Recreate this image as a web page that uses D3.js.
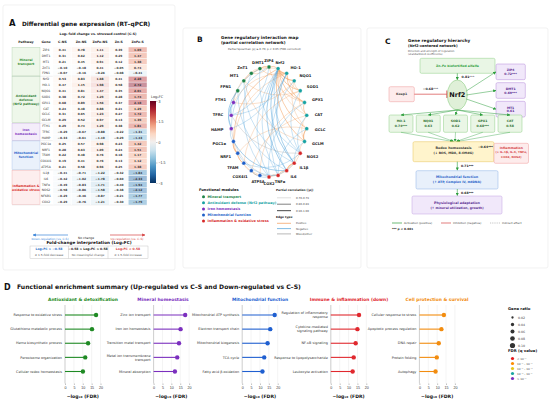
<!DOCTYPE html>
<html>
<head>
<meta charset="utf-8">
<script src="https://cdn.jsdelivr.net/npm/d3@7"></script>
<style>
body { margin: 0; background: #fff; }
svg { display: block; font-family: "DejaVu Sans", sans-serif; }
</style>
</head>
<body>
<div id="chart"></div>
<script>
"use strict";

// ---- panel A data
const conditions = ["C-NS", "Zn-NS", "ZnFe-NS", "Zn-S", "ZnFe-S"];
const genes = ["ZIP4", "DMT1", "MT1", "ZnT1", "FPN1",
    "Nrf2", "HO-1", "NQO1", "SOD1", "GPX1", "CAT", "GCLC", "GCLM",
    "FTH1", "TFRC", "HAMP",
    "PGC1α", "NRF1", "TFAM", "COX4I1", "ATP5A",
    "IL1β", "IL6", "TNFα", "NOS2", "NFKB1", "COX2"];
const pathwayNames = [["Mineral", "transport"], ["Antioxidant", "defense", "(Nrf2 pathway)"],
    ["Iron", "homeostasis"], ["Mitochondrial", "function"], ["Inflammation &", "oxidative stress"]];
const pathwaySizes = [5, 8, 3, 5, 6];
const log2fc = [
    [0.41, 0.78, 1.11, 0.39, 1.69], [0.31, 0.62, 1.12, 0.29, 1.47], [0.21, 0.45, 0.91, 0.12, 1.38],
    [-0.10, -0.18, 0.41, -0.05, 0.74], [-0.07, -0.16, -0.26, -0.08, -0.41],
    [0.53, 0.83, 1.68, 0.41, 2.28], [0.47, 1.15, 1.98, 0.58, 2.72], [0.41, 0.81, 1.47, 0.35, 2.01],
    [0.38, 0.72, 1.29, 0.28, 1.74], [0.68, 0.89, 1.56, 0.37, 2.18], [0.24, 0.48, 0.88, 0.21, 1.29],
    [0.31, 0.65, 1.23, 0.27, 1.72], [0.29, 0.52, 0.97, 0.13, 1.39],
    [0.29, 0.74, 1.29, 0.38, 1.81], [-0.29, -0.67, -0.88, -0.22, -1.31], [-0.33, -0.61, -1.10, -0.29, -1.43],
    [0.25, 0.57, 0.98, 0.23, 1.42], [0.28, 0.63, 1.09, 0.24, 1.51], [0.22, 0.48, 0.76, 0.18, 1.17],
    [0.19, 0.41, 0.76, 0.13, 1.12], [0.21, 0.58, 0.96, 0.25, 1.38],
    [-0.41, -0.71, -1.22, -0.32, -1.84], [-0.42, -1.02, -1.78, -0.60, -2.33], [-0.49, -0.83, -1.71, -0.40, -1.94],
    [-0.58, -0.86, -1.58, -0.38, -2.12], [-0.29, -0.46, -0.87, -0.21, -1.77], [-0.29, -0.76, -1.21, -0.30, -1.79]
];
const colorbarTicks = [3, 1.5, 0, -1.5, -3];

// ---- panel B data
const networkNodes = ["ZIP4", "DMT1", "ZnT1", "MT1", "FPN1", "FTH1", "TFRC", "HAMP",
    "PGC1α", "NRF1", "TFAM", "COX4I1", "ATP5A", "COX2", "TNFα", "IL6", "IL1β", "NOS2",
    "GCLM", "GCLC", "CAT", "GPX1", "SOD1", "NQO1", "HO-1", "Nrf2"];
const nodeModule = [0, 0, 0, 0, 0, 2, 2, 2, 3, 3, 3, 3, 3, 4, 4, 4, 4, 4, 1, 1, 1, 1, 1, 1, 1, 1];
const moduleNames = ["Mineral transport", "Antioxidant defense (Nrf2 pathway)", "Iron homeostasis",
    "Mitochondrial function", "Inflammation & oxidative stress"];
const networkEdges = [
    ["Nrf2", "HO-1", 0.94, "pos"], ["Nrf2", "NQO1", 0.91, "pos"], ["Nrf2", "SOD1", 0.86, "pos"],
    ["Nrf2", "GPX1", 0.89, "pos"], ["Nrf2", "CAT", 0.78, "pos"], ["Nrf2", "GCLC", 0.88, "pos"],
    ["Nrf2", "GCLM", 0.82, "pos"], ["Nrf2", "ZIP4", 0.84, "pos"], ["Nrf2", "MT1", 0.76, "pos"],
    ["Nrf2", "PGC1α", 0.81, "pos"], ["HO-1", "FTH1", 0.79, "pos"], ["HO-1", "GPX1", 0.83, "pos"],
    ["NQO1", "SOD1", 0.77, "pos"], ["GPX1", "CAT", 0.80, "pos"], ["GCLC", "GCLM", 0.92, "pos"],
    ["ZIP4", "DMT1", 0.87, "pos"], ["ZIP4", "MT1", 0.74, "pos"], ["DMT1", "FTH1", 0.78, "pos"],
    ["MT1", "SOD1", 0.73, "pos"], ["PGC1α", "NRF1", 0.90, "pos"], ["NRF1", "TFAM", 0.88, "pos"],
    ["TFAM", "COX4I1", 0.79, "pos"], ["COX4I1", "ATP5A", 0.84, "pos"], ["PGC1α", "ATP5A", 0.75, "pos"],
    ["IL1β", "IL6", 0.91, "pos"], ["IL6", "TNFα", 0.86, "pos"], ["TNFα", "COX2", 0.80, "pos"],
    ["NOS2", "IL1β", 0.77, "pos"], ["COX2", "NOS2", 0.72, "pos"], ["ZnT1", "ZIP4", 0.71, "pos"],
    ["FTH1", "NQO1", 0.74, "pos"], ["HO-1", "PGC1α", 0.76, "pos"], ["SOD1", "TFAM", 0.72, "pos"],
    ["CAT", "COX4I1", 0.73, "pos"], ["GPX1", "ATP5A", 0.75, "pos"], ["DMT1", "HO-1", 0.78, "pos"],
    ["MT1", "GCLM", 0.72, "pos"], ["ZIP4", "GPX1", 0.76, "pos"], ["GCLC", "NRF1", 0.74, "pos"],
    ["SOD1", "CAT", 0.75, "pos"], ["NQO1", "GCLC", 0.73, "pos"], ["HO-1", "SOD1", 0.78, "pos"],
    ["GCLM", "NOS2", 0.71, "pos"], ["CAT", "GCLM", 0.74, "pos"],
    ["Nrf2", "IL1β", -0.86, "neg"], ["Nrf2", "IL6", -0.82, "neg"], ["Nrf2", "TNFα", -0.79, "neg"],
    ["Nrf2", "NOS2", -0.77, "neg"], ["Nrf2", "COX2", -0.74, "neg"], ["HO-1", "IL1β", -0.83, "neg"],
    ["HO-1", "IL6", -0.76, "neg"], ["NQO1", "TNFα", -0.74, "neg"], ["GPX1", "COX2", -0.72, "neg"],
    ["SOD1", "NOS2", -0.75, "neg"], ["ZIP4", "HAMP", -0.78, "neg"], ["DMT1", "TFRC", -0.71, "neg"],
    ["FTH1", "TFRC", -0.88, "neg"], ["FTH1", "HAMP", -0.73, "neg"], ["MT1", "IL1β", -0.76, "neg"],
    ["PGC1α", "IL6", -0.81, "neg"], ["NRF1", "TNFα", -0.72, "neg"], ["ATP5A", "IL1β", -0.79, "neg"],
    ["COX4I1", "COX2", -0.73, "neg"], ["TFAM", "NOS2", -0.71, "neg"], ["TFRC", "HO-1", -0.74, "neg"],
    ["HAMP", "Nrf2", -0.77, "neg"], ["FPN1", "HAMP", -0.85, "neg"], ["TFRC", "ZIP4", -0.72, "neg"],
    ["GCLC", "TNFα", -0.75, "neg"], ["GCLM", "IL1β", -0.73, "neg"], ["FPN1", "IL6", -0.71, "neg"],
    ["ZnT1", "COX2", -0.72, "neg"], ["CAT", "NOS2", -0.74, "neg"], ["DMT1", "NOS2", -0.71, "neg"],
    ["HAMP", "PGC1α", -0.72, "neg"],
    ["HAMP", "COX2", 0.71, "mix"], ["TFRC", "NOS2", 0.72, "mix"], ["FPN1", "FTH1", 0.73, "mix"]
];
const rhoBins = ["0.70-0.79", "0.80-0.89", "0.90-1.00"];
const edgeTypes = ["Positive", "Negative", "Mixed/other"];

// ---- panel C data
const mineralTargets = ["ZIP4", "DMT1", "MT1"];
const mineralCoef = ["0.72***", "0.69***", "0.61"];
const redoxTargets = ["HO-1", "NQO1", "SOD1", "GPX1", "CAT"];
const redoxCoef = ["0.74***", "0.63", "0.62", "0.68***", "0.58"];
const pathCoef = {alfalfa: "0.81***", keap1: "−0.68***", inflam: "−0.64***", mito: "0.71***", phys: "0.68***"};

// ---- panel D data
const enrichGroups = ["Antioxidant & detoxification", "Mineral homeostasis", "Mitochondrial function",
    "Immune & inflammation (down)", "Cell protection & survival"];
const enrichTerms = [
    ["Response to oxidative stress", "Glutathione metabolic process", "Heme biosynthetic process", "Peroxisome organization", "Cellular redox homeostasis"],
    ["Zinc ion transport", "Iron ion homeostasis", "Transition metal transport", "Metal ion transmembrane\ntransport", "Mineral absorption"],
    ["Mitochondrial ATP synthesis", "Electron transport chain", "Mitochondrial biogenesis", "TCA cycle", "Fatty acid β-oxidation"],
    ["Regulation of inflammatory\nresponse", "Cytokine-mediated\nsignaling pathway", "NF-κB signaling", "Response to lipopolysaccharide", "Leukocyte activation"],
    ["Cellular response to stress", "Apoptotic process regulation", "DNA repair", "Protein folding", "Autophagy"]
];
const enrichScores = [
    [17.5, 15.2, 13.0, 11.4, 10.1],
    [17.8, 15.2, 14.3, 13.3, 12.0],
    [18.3, 15.8, 14.3, 12.4, 11.4],
    [15.9, 15.0, 14.0, 12.9, 12.3],
    [13.8, 12.4, 10.9, 9.8, 9.1]
];
const geneRatios = [0.02, 0.04, 0.06, 0.08, 0.10];
const fdrBins = ["< 10⁻⁵", "10⁻⁵ – 10⁻⁴", "10⁻⁴ – 10⁻³", "10⁻³ – 10⁻²", "> 10⁻²"];

// ---- styles
const pathwayText = ["#2e8b2e", "#2e7d32", "#7b2fbe", "#1f5fc8", "#d62728"];
const pathwayFill = ["#eef7ea", "#eef7ea", "#f4edfa", "#eaf1fb", "#fdeeee"];
const moduleColor = ["#1e8449", "#17a2a2", "#7b2fbe", "#1f5fc8", "#d62728"];
const edgeColor = {pos: "#f29a55", neg: "#4a9fd8", mix: "#9a9a9a"};
const groupColor = ["#1f8a24", "#7b2fbe", "#1f5fd0", "#e0282e", "#f28c0f"];
const fdrColor = ["#e41a1c", "#ff8c00", "#e6c619", "#1aa7a0", "#7b2fbe"];
const green = "#2e9e3e", red = "#d64545";

const svg = d3.select("#chart").append("svg").attr("width", 550).attr("height", 404);

const defs = svg.append("defs");
function marker(id, color) {
    defs.append("marker").attr("id", id).attr("viewBox", "0 0 10 10")
        .attr("refX", 9).attr("refY", 5).attr("markerUnits", "userSpaceOnUse")
        .attr("markerWidth", 3.2).attr("markerHeight", 3.2).attr("orient", "auto")
        .append("path").attr("d", "M0,0L10,5L0,10z").attr("fill", color);
}
marker("arrG", green);
marker("arrR", red);
marker("arrB", "#3a84d8");

// cards
[[3, 5, 172, 265], [183, 28, 178, 240], [367, 28, 181, 240]].forEach(([x, y, w, h]) =>
    svg.append("rect").attr("x", x).attr("y", y).attr("width", w).attr("height", h)
        .attr("rx", 2).attr("fill", "none").attr("stroke", "#ececec").attr("stroke-width", 0.7));

function txt(g, x, y, s, size, opts = {}) {
    return g.append("text").attr("x", x).attr("y", y).text(s)
        .attr("font-size", size)
        .attr("font-weight", opts.weight || "normal")
        .attr("fill", opts.fill || "#222")
        .attr("text-anchor", opts.anchor || "start");
}

// ======================= PANEL A
const gA = svg.append("g");
txt(gA, 9, 26, "A", 8.5, {weight: "bold", fill: "#111"});
txt(gA, 22, 25.5, "Differential gene expression (RT–qPCR)", 5.8, {weight: "bold", fill: "#111"});
txt(gA, 98, 35, "Log₂ fold change vs. stressed control (C-S)", 3.2, {weight: "bold", anchor: "middle"});

const yRow = d3.scaleBand().domain(d3.range(genes.length)).range([47, 205]);
const xCol = d3.scaleBand().domain(conditions).range([53, 147]);
const cellColor = d3.scaleDiverging([-3, 0, 3], t => d3.interpolateRdBu(1 - t));

txt(gA, 26, 42.8, "Pathway", 3.2, {weight: "bold", anchor: "middle"});
txt(gA, 46, 42.8, "Gene", 3.2, {weight: "bold", anchor: "middle"});
conditions.forEach(c => txt(gA, xCol(c) + xCol.bandwidth() / 2, 42.8, c, 3.2, {weight: "bold", anchor: "middle"}));

// pathway boxes
let start = 0;
pathwaySizes.forEach((n, k) => {
    const y0 = yRow(start), y1 = yRow(start + n - 1) + yRow.bandwidth();
    gA.append("rect").attr("x", 12).attr("y", y0 + 0.3).attr("width", 28).attr("height", y1 - y0 - 0.6)
        .attr("fill", pathwayFill[k]).attr("stroke", d3.color(pathwayText[k]).copy({opacity: 0.35})).attr("stroke-width", 0.4);
    const lines = pathwayNames[k];
    lines.forEach((l, j) => txt(gA, 26, (y0 + y1) / 2 + (j - (lines.length - 1) / 2) * 4 + 1.1, l, 3.1,
        {weight: "bold", anchor: "middle", fill: pathwayText[k]}));
    gA.append("line").attr("x1", 12).attr("x2", 147).attr("y1", y1).attr("y2", y1)
        .attr("stroke", "#d8d8d8").attr("stroke-width", 0.4);
    start += n;
});

// cells
genes.forEach((g, i) => {
    txt(gA, 46, yRow(i) + yRow.bandwidth() / 2 + 1.1, g, 3, {anchor: "middle", fill: "#333"});
    conditions.forEach((c, j) => {
        const v = log2fc[i][j];
        gA.append("rect").attr("x", xCol(c)).attr("y", yRow(i))
            .attr("width", xCol.bandwidth()).attr("height", yRow.bandwidth())
            .attr("fill", cellColor(v)).attr("fill-opacity", c === "ZnFe-S" ? 0.45 : 0.16)
            .attr("stroke", "#fff").attr("stroke-width", 0.4);
        txt(gA, xCol(c) + xCol.bandwidth() / 2, yRow(i) + yRow.bandwidth() / 2 + 1.1,
            (v < 0 ? "−" : "") + Math.abs(v).toFixed(2), 2.9, {anchor: "middle", weight: "600", fill: "#333"});
    });
});

// colorbar
const grad = defs.append("linearGradient").attr("id", "cbar").attr("x1", 0).attr("x2", 0).attr("y1", 1).attr("y2", 0);
d3.range(0, 1.01, 0.1).forEach(t => grad.append("stop").attr("offset", t).attr("stop-color", cellColor(-3 + 6 * t)));
const yBar = d3.scaleLinear([-3, 3], [183, 101]);
gA.append("rect").attr("x", 150).attr("y", 101).attr("width", 6).attr("height", 82).attr("fill", "url(#cbar)");
gA.append("g").attr("transform", "translate(156,0)")
    .call(d3.axisRight(yBar).tickValues(colorbarTicks).tickSize(1.5).tickFormat(d => d < 0 ? "−" + Math.abs(d) : d))
    .call(g => g.select(".domain").remove())
    .call(g => g.selectAll("text").attr("font-size", 3.5).attr("x", 2.5).attr("fill", "#333"))
    .call(g => g.selectAll("line").attr("stroke", "#555").attr("stroke-width", 0.3));
txt(gA, 151, 97.5, "Log₂FC", 3.5, {fill: "#333"});

// interpretation legend
gA.append("line").attr("x1", 68).attr("x2", 33).attr("y1", 235).attr("y2", 235)
    .attr("stroke", "#3a84d8").attr("stroke-width", 0.7).attr("marker-end", "url(#arrB)");
gA.append("line").attr("x1", 110).attr("x2", 145).attr("y1", 235).attr("y2", 235)
    .attr("stroke", red).attr("stroke-width", 0.7).attr("marker-end", "url(#arrR)");
txt(gA, 50, 239.5, "Down-regulation (vs. C-S)", 2.9, {anchor: "middle", fill: "#3a84d8"});
txt(gA, 86, 239, "No change", 3, {anchor: "middle", fill: "#222"});
txt(gA, 127, 239.5, "Up-regulation (vs. C-S)", 2.9, {anchor: "middle", fill: red});
txt(gA, 89, 244.3, "Fold-change interpretation (Log₂FC)", 4.2, {anchor: "middle", weight: "bold", fill: "#111"});
gA.append("rect").attr("x", 30).attr("y", 246).attr("width", 118).attr("height", 12.5)
    .attr("fill", "none").attr("stroke", "#bbb").attr("stroke-width", 0.4);
[68.5, 108].forEach(x => gA.append("line").attr("x1", x).attr("x2", x).attr("y1", 246).attr("y2", 258.5)
    .attr("stroke", "#bbb").attr("stroke-width", 0.4));
txt(gA, 49, 250.3, "Log₂FC ≤ −0.58", 3.1, {anchor: "middle", weight: "bold", fill: "#2f6fc8"});
txt(gA, 88, 250.3, "−0.58 < Log₂FC < 0.58", 3.1, {anchor: "middle", weight: "bold", fill: "#222"});
txt(gA, 128, 250.3, "Log₂FC ≥ 0.58", 3.1, {anchor: "middle", weight: "bold", fill: red});
txt(gA, 49, 255.6, "≥ 1.5-fold decrease", 2.9, {anchor: "middle", fill: "#555"});
txt(gA, 88, 255.6, "No meaningful change", 2.9, {anchor: "middle", fill: "#555"});
txt(gA, 128, 255.6, "≥ 1.5-fold increase", 2.9, {anchor: "middle", fill: "#555"});

// ======================= PANEL B
const gB = svg.append("g");
txt(gB, 197, 42, "B", 7.5, {weight: "bold", fill: "#111"});
txt(gB, 221, 38.5, "Gene regulatory interaction map", 4.2, {weight: "bold", fill: "#111"});
txt(gB, 221, 44.3, "(partial correlation network)", 4, {weight: "bold", fill: "#111"});
txt(gB, 228, 50, "Partial Spearman |ρ| ≥ 0.70, p < 0.05 (FDR corrected)", 2.7, {fill: "#444"});

const cx = 269, cy = 122, rx = 38, ry = 55;
const angle = d3.scaleLinear().domain([0, networkNodes.length]).range([0, 2 * Math.PI]);
const nodePos = new Map(networkNodes.map((n, i) => {
    const a = angle(i);
    return [n, {x: cx - rx * Math.sin(a), y: cy - ry * Math.cos(a), a, i}];
}));
const rhoWidth = d3.scaleThreshold().domain([0.8, 0.9]).range([0.45, 0.75, 1.1]);

// arc3-style curved edges
gB.append("g").selectAll("path").data(networkEdges).join("path")
    .attr("d", ([s, t]) => {
        const p = nodePos.get(s), q = nodePos.get(t);
        const mx = (p.x + q.x) / 2, my = (p.y + q.y) / 2;
        const dx = q.x - p.x, dy = q.y - p.y;
        const qx = mx - 0.3 * dy, qy = my + 0.3 * dx;
        return `M${p.x},${p.y}Q${qx},${qy} ${q.x},${q.y}`;
    })
    .attr("fill", "none")
    .attr("stroke", d => edgeColor[d[3]])
    .attr("stroke-opacity", 0.65)
    .attr("stroke-width", d => rhoWidth(Math.abs(d[2])));

gB.append("g").selectAll("circle").data(networkNodes).join("circle")
    .attr("cx", d => nodePos.get(d).x).attr("cy", d => nodePos.get(d).y).attr("r", 1.9)
    .attr("fill", (d, i) => moduleColor[nodeModule[i]]).attr("stroke", "#fff").attr("stroke-width", 0.3);

gB.append("g").selectAll("text").data(networkNodes).join("text")
    .attr("x", d => cx - (rx + 8) * Math.sin(nodePos.get(d).a))
    .attr("y", d => cy - (ry + 6.5) * Math.cos(nodePos.get(d).a) + 1.3)
    .attr("text-anchor", d => {
        const s = Math.sin(nodePos.get(d).a);
        return s > 0.3 ? "end" : s < -0.3 ? "start" : "middle";
    })
    .attr("font-size", 3.7).attr("font-weight", "bold").attr("fill", "#222")
    .text(d => d);

// legend B
txt(gB, 199, 190.5, "Functional modules", 3.6, {weight: "bold", fill: "#111"});
moduleNames.forEach((m, k) => {
    const y = 196.7 + k * 6.1;
    gB.append("circle").attr("cx", 203.5).attr("cy", y).attr("r", 1.5).attr("fill", moduleColor[k]);
    txt(gB, 207.5, y + 1.2, m, 3.4, {weight: "600", fill: moduleColor[k]});
});
txt(gB, 276, 190.8, "Partial correlation (|ρ|)", 2.9, {weight: "bold", fill: "#111"});
rhoBins.forEach((b, k) => {
    const y = 197.8 + k * 6.4;
    gB.append("line").attr("x1", 277).attr("x2", 291).attr("y1", y).attr("y2", y)
        .attr("stroke", k === 0 ? "#bbb" : "#666").attr("stroke-width", rhoWidth.range()[k] * 1.1);
    txt(gB, 296, y + 1, b, 2.7, {fill: "#444"});
});
txt(gB, 276, 218, "Edge type", 2.9, {weight: "bold", fill: "#111"});
edgeTypes.forEach((e, k) => {
    const y = 223.3 + k * 5.3;
    gB.append("line").attr("x1", 277).attr("x2", 291).attr("y1", y).attr("y2", y)
        .attr("stroke", edgeColor[["pos", "neg", "mix"][k]]).attr("stroke-width", 0.7);
    txt(gB, 296, y + 1, e, 2.7, {fill: "#444"});
});

// ======================= PANEL C
const gC = svg.append("g");
txt(gC, 385, 44, "C", 7.5, {weight: "bold", fill: "#111"});
txt(gC, 408, 41.5, "Gene regulatory hierarchy", 4.2, {weight: "bold", fill: "#111"});
txt(gC, 408, 47, "(Nrf2-centered network)", 3.6, {weight: "bold", fill: "#111"});
txt(gC, 408, 51.8, "Direction and strength of regulation", 2.6, {fill: "#555"});
txt(gC, 408, 55.3, "(standardized coefficients)", 2.6, {fill: "#555"});

function box(x, y, w, h, fill, stroke) {
    gC.append("rect").attr("x", x).attr("y", y).attr("width", w).attr("height", h).attr("rx", 1.5)
        .attr("fill", fill).attr("stroke", stroke).attr("stroke-width", 0.5);
}
function arrow(x1, y1, x2, y2, color, mk, w = 0.5) {
    gC.append("line").attr("x1", x1).attr("y1", y1).attr("x2", x2).attr("y2", y2)
        .attr("stroke", color).attr("stroke-width", w).attr("marker-end", mk ? `url(#${mk})` : null);
}

// alfalfa -> Nrf2
box(420, 58.3, 75, 15, "#e9f6e5", "#8fcf86");
txt(gC, 457.5, 67.2, "Zn–Fe biofortified alfalfa", 3.1, {weight: "bold", anchor: "middle", fill: green});
arrow(457.3, 73.3, 457.3, 79.8, green, "arrG", 0.6);
txt(gC, 461.5, 78.2, pathCoef.alfalfa, 3.2, {weight: "bold", fill: "#222"});

const nx = 457.3, ny = 95;
gC.append("ellipse").attr("cx", nx).attr("cy", ny).attr("rx", 10).attr("ry", 15)
    .attr("fill", "#dff0d8").attr("stroke", "#8fcf86").attr("stroke-width", 0.6);
txt(gC, nx, ny + 2.3, "Nrf2", 6.5, {weight: "bold", anchor: "middle", fill: "#111"});

// Keap1 inhibition
box(389, 86.7, 25.3, 15, "#fdecec", "#ef9a9a");
txt(gC, 401.6, 95.3, "Keap1", 3.2, {weight: "bold", anchor: "middle", fill: "#444"});
arrow(414.3, 94.2, 446.8, 94.2, red, null, 0.7);
gC.append("line").attr("x1", 446.8).attr("x2", 446.8).attr("y1", 90.5).attr("y2", 98)
    .attr("stroke", red).attr("stroke-width", 0.8);
txt(gC, 430.5, 90, pathCoef.keap1, 3.2, {weight: "bold", anchor: "middle", fill: "#222"});

// mineral targets
const yMin = d3.scaleBand().domain(mineralTargets).range([64, 117]).paddingInner(0.16);
mineralTargets.forEach((m, k) => {
    const y = yMin(m), h = yMin.bandwidth();
    box(496, y, 29.3, h, "#f1e8fa", "#b48ad8");
    txt(gC, 510.6, y + h / 2 - 0.6, m, 3.1, {weight: "bold", anchor: "middle", fill: "#5b2c91"});
    txt(gC, 510.6, y + h / 2 + 3.3, mineralCoef[k], 3.1, {weight: "bold", anchor: "middle", fill: "#5b2c91"});
    arrow(nx + 9, ny - 4 + k * 4, 496, y + h / 2, green, "arrG", 0.5);
});

// redox targets
const xT = d3.scaleBand().domain(redoxTargets).range([389, 522]).paddingInner(0.12);
redoxTargets.forEach((r, k) => {
    const x = xT(r), w = xT.bandwidth();
    box(x, 115, w, 17.3, "#eaf6e6", "#8fcf86");
    txt(gC, x + w / 2, 122.2, r, 3.1, {weight: "bold", anchor: "middle", fill: "#2e6f2e"});
    txt(gC, x + w / 2, 126.8, redoxCoef[k], 3.1, {weight: "bold", anchor: "middle", fill: "#2e6f2e"});
    arrow(nx, ny + 15, x + w / 2, 115, green, "arrG", 0.5);
    arrow(x + w / 2, 132.3, 455 + (k - 2) * 1.2, 141.5, green, "arrG", 0.4);
});

// redox homeostasis + inflammation
box(413, 141.7, 81, 20, "#fff4cc", "#e6c55a");
txt(gC, 453.5, 149.3, "Redox homeostasis", 3.3, {weight: "bold", anchor: "middle", fill: "#333"});
txt(gC, 453.5, 154.2, "(↓ ROS, MDA, 8-OHdG)", 3.1, {weight: "bold", anchor: "middle", fill: "#333"});
box(494, 143.3, 34.5, 20, "#fdecec", "#ef9a9a");
txt(gC, 511.3, 148.6, "Inflammation", 3.1, {weight: "bold", anchor: "middle", fill: red});
txt(gC, 511.3, 153.1, "(↓ IL-1β, IL-6, TNFα,", 2.8, {weight: "bold", anchor: "middle", fill: red});
txt(gC, 511.3, 157.6, "COX2, NOS2)", 2.8, {weight: "bold", anchor: "middle", fill: red});
txt(gC, 493, 148, pathCoef.inflam, 3.1, {weight: "bold", anchor: "end", fill: "#222"});

arrow(457.3, 161.7, 457.3, 170.3, green, "arrG", 0.6);
txt(gC, 461, 167.2, pathCoef.mito, 3.1, {weight: "bold", fill: "#222"});
box(416, 170.7, 82, 18.3, "#e8f0fb", "#8fb3e6");
txt(gC, 457, 178, "Mitochondrial function", 3.3, {weight: "bold", anchor: "middle", fill: "#1f5fc8"});
txt(gC, 457, 183, "(↑ ATP, Complex IV, mtDNA)", 3.1, {weight: "bold", anchor: "middle", fill: "#1f5fc8"});

arrow(457.3, 189, 457.3, 195.6, green, "arrG", 0.6);
txt(gC, 461, 193.5, pathCoef.phys, 3.1, {weight: "bold", fill: "#222"});
box(412, 196, 90, 18, "#f1e8fa", "#c0a0e0");
txt(gC, 457, 203.5, "Physiological adaptation", 3.3, {weight: "bold", anchor: "middle", fill: "#5b2c91"});
txt(gC, 457, 208.5, "(↑ mineral utilization, growth)", 3.1, {weight: "bold", anchor: "middle", fill: "#5b2c91"});

// legend C
gC.append("line").attr("x1", 392).attr("x2", 402).attr("y1", 223).attr("y2", 223).attr("stroke", green).attr("stroke-width", 0.7);
txt(gC, 404, 224, "Activation (positive)", 2.8, {fill: "#444"});
gC.append("line").attr("x1", 441).attr("x2", 451).attr("y1", 223).attr("y2", 223).attr("stroke", red).attr("stroke-width", 0.7);
txt(gC, 453, 224, "Inhibition (negative)", 2.8, {fill: "#444"});
gC.append("line").attr("x1", 490).attr("x2", 500).attr("y1", 223).attr("y2", 223).attr("stroke", "#888")
    .attr("stroke-width", 0.5).attr("stroke-dasharray", "1.2,1");
txt(gC, 502, 224, "Indirect effect", 2.8, {fill: "#444"});
txt(gC, 392, 229.5, "*** p < 0.001", 2.9, {weight: "bold", fill: "#222"});

// ======================= PANEL D
const gD = svg.append("g");
txt(gD, 4, 289.5, "D", 8, {weight: "bold", fill: "#111"});
txt(gD, 17, 289, "Functional enrichment summary (Up-regulated vs C–S and Down-regulated vs C–S)", 6.1,
    {weight: "bold", fill: "#111"});

const yTerm = d3.scalePoint().domain(d3.range(5)).range([315, 371.5]);
enrichGroups.forEach((grp, k) => {
    const x0 = 65 + k * 88.6;
    const x = d3.scaleLinear([0, 20], [x0, x0 + 35.5]);
    const g = gD.append("g");
    txt(g, [83, 163, 260, 349, 437][k], 300.5, grp, 4.4, {weight: "bold", anchor: "middle", fill: groupColor[k]});
    g.append("g").selectAll("line").data(x.ticks(4)).join("line")
        .attr("x1", d => x(d)).attr("x2", d => x(d)).attr("y1", 305).attr("y2", 383.5)
        .attr("stroke", "#e8e8e8").attr("stroke-width", 0.5);
    g.append("line").attr("x1", x0).attr("x2", x0).attr("y1", 305).attr("y2", 383.5)
        .attr("stroke", "#aaa").attr("stroke-width", 0.5);
    g.append("g").attr("transform", "translate(0,383.5)")
        .call(d3.axisBottom(x).ticks(4).tickSize(1.5))
        .call(s => s.select(".domain").remove())
        .call(s => s.selectAll("line").attr("stroke", "#666").attr("stroke-width", 0.4))
        .call(s => s.selectAll("text").attr("font-size", 3.6).attr("y", 2.6).attr("fill", "#333"));
    txt(g, x0 + 17.75, 398, "−log₁₀ (FDR)", 4.6, {weight: "bold", anchor: "middle", fill: "#111"});
    enrichTerms[k].forEach((term, i) => {
        const y = yTerm(i);
        const lines = term.split("\n");
        lines.forEach((l, j) => txt(g, x0 - 3, y + 1.2 + (j - (lines.length - 1) / 2) * 4, l, 3.4,
            {anchor: "end", fill: "#333"}));
        g.append("line").attr("x1", x0).attr("x2", x(enrichScores[k][i])).attr("y1", y).attr("y2", y)
            .attr("stroke", groupColor[k]).attr("stroke-width", 1.1);
        g.append("circle").attr("cx", x(enrichScores[k][i])).attr("cy", y).attr("r", 2.2)
            .attr("fill", groupColor[k]);
    });
});

// legend D
txt(gD, 508, 310, "Gene ratio", 3.8, {weight: "bold", fill: "#111"});
const rRatio = d3.scaleSqrt([0, 0.10], [0, 2.6]);
geneRatios.forEach((r, k) => {
    const y = 317.5 + k * 7;
    gD.append("circle").attr("cx", 512.5).attr("cy", y).attr("r", rRatio(r)).attr("fill", "#333");
    txt(gD, 518, y + 1.1, r.toFixed(2), 3.2, {fill: "#444"});
});
txt(gD, 508, 352, "FDR (q value)", 3.8, {weight: "bold", fill: "#111"});
fdrBins.forEach((b, k) => {
    const y = 358.5 + k * 5;
    gD.append("circle").attr("cx", 512.5).attr("cy", y).attr("r", 1.6).attr("fill", fdrColor[k]);
    txt(gD, 517, y + 1, b, 2.8, {fill: "#444"});
});
</script>
</body>
</html>
